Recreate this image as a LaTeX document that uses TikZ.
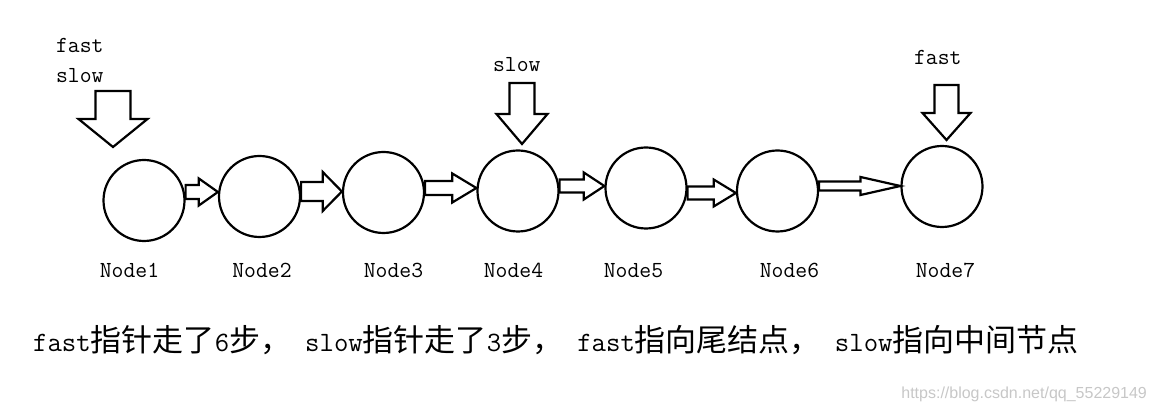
\documentclass[tikz,border=0pt]{standalone}
\usepackage{fontspec}
\usetikzlibrary{calc}
\newfontfamily\cjk{Noto Sans CJK SC}
\newfontfamily\markfont{Liberation Sans}
\newcommand{\zh}[1]{{\cjk\fontsize{15.5}{18}\selectfont #1}}

\begin{document}
\begin{tikzpicture}[x=0.5pt, y=-0.5pt, line width=1.1pt,
    listnode/.style={circle, draw, minimum size=40.5pt, inner sep=0pt},
    nodelabel/.style={anchor=base, inner sep=0pt, font=\ttfamily\fontsize{11.5}{13}\selectfont},
    ptrlabel/.style={anchor=base west, inner sep=0pt, font=\ttfamily\fontsize{11.5}{13}\selectfont},
    blockarr/.style={draw, fill=white, line join=miter}]
    \useasboundingbox (0,0) rectangle (1153,405);

    \node[listnode] (n1) at (144,200.5) {};
    \node[listnode] (n2) at (259.5,196.5) {};
    \node[listnode] (n3) at (383.5,192.5) {};
    \node[listnode] (n4) at (518,191) {};
    \node[listnode] (n5) at (646,188) {};
    \node[listnode] (n6) at (777.5,191) {};
    \node[listnode] (n7) at (942,186.5) {};

    \node[nodelabel] (l1) at (129.5,278) {Node1};
    \node[nodelabel] (l2) at (262,278) {Node2};
    \node[nodelabel] (l3) at (393.5,278) {Node3};
    \node[nodelabel] (l4) at (513.5,278) {Node4};
    \node[nodelabel] (l5) at (633.5,278) {Node5};
    \node[nodelabel] (l6) at (789.5,278) {Node6};
    \node[nodelabel] (l7) at (945.5,278) {Node7};

    \node[ptrlabel] (fast1) at (55,53) {fast};
    \node[ptrlabel] (slow1) at (55,83) {slow};
    \node[ptrlabel] (slow2) at (492,72) {slow};
    \node[ptrlabel] (fast2) at (913,65) {fast};

    % next pointers
    \foreach \a/\b/\ay/\f/\w/\h in {n1/n2/192/0.41/7/13.5, n2/n3/191.5/0.53/9.5/19.5,
        n3/n4/188/0.53/7/14.5, n4/n5/186/0.54/6.5/13.5, n5/n6/193/0.54/6.5/13.5,
        n6/n7/186/0.51/4.5/9} {
        \coordinate (s) at (\a.east |- 0,\ay);
        \coordinate (t) at (\b.west |- 0,\ay);
        \coordinate (m) at ($(s)!\f!(t)$);
        \draw[blockarr] ($(s)+(0,-\w)$) -- ($(m)+(0,-\w)$) -- ($(m)+(0,-\h)$) -- (t)
            -- ($(m)+(0,\h)$) -- ($(m)+(0,\w)$) -- ($(s)+(0,\w)$) -- cycle;
    }

    % fast / slow pointers
    \foreach \tx/\ty/\top/\neck/\sw/\hw in {113/147/91/119/17.5/34.5,
        522/144/83/114/12.5/25.5, 946.5/140/85/113/12/24}
        \draw[blockarr] (\tx-\sw,\top) -- (\tx+\sw,\top) -- (\tx+\sw,\neck) -- (\tx+\hw,\neck)
            -- (\tx,\ty) -- (\tx-\hw,\neck) -- (\tx-\sw,\neck) -- cycle;

    \node[anchor=base west, inner sep=0pt, font=\ttfamily\fontsize{14}{16}\selectfont] (note) at (32,352)
        {fast\zh{指针走了}6\zh{步，}\hspace{7pt}slow\zh{指针走了}3\zh{步，}\hspace{7pt}fast\zh{指向尾结点，}\hspace{7pt}slow\zh{指向中间节点}};
    \node[anchor=base east, inner sep=0pt, text=black!22, font=\markfont\fontsize{8}{9.6}\selectfont] (mark) at (1148,399)
        {https://blog.csdn.net/qq\_55229149};
\end{tikzpicture}
\end{document}
